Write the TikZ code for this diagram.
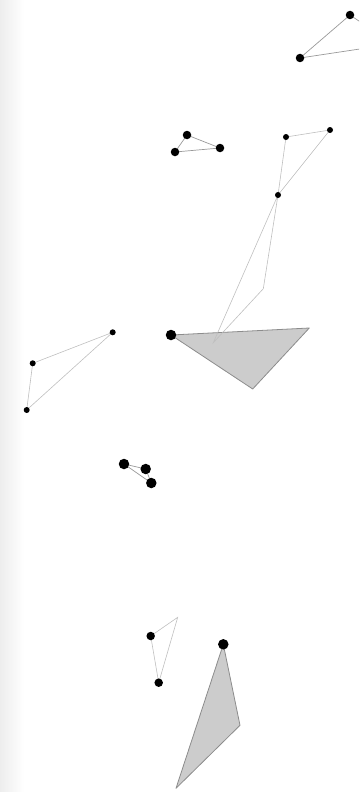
\documentclass[tikz,border=0pt]{standalone}
\begin{document}
\begin{tikzpicture}[x=1pt,y=-1pt,
  dotS/.style={circle,fill=black,inner sep=0pt,minimum size=6pt},
  dotM/.style={circle,fill=black,inner sep=0pt,minimum size=8.5pt},
  dotL/.style={circle,fill=black,inner sep=0pt,minimum size=10.5pt},
  edge/.style={draw=black!25,line width=0.6pt},
  edgeD/.style={draw=black!40,line width=0.7pt},
  face/.style={fill=black!20,draw=black!45,line width=0.8pt,line join=round}]
\useasboundingbox (0,0) rectangle (359,792);
\shade[left color=black!7,right color=white] (0,0) rectangle (24,792);
\begin{scope}
\clip (0,0) rectangle (359,792);
% group 1
\coordinate (c1) at (393,44);
\coordinate (a1) at (350,15);
\coordinate (b1) at (300,58);
\draw[edgeD] (a1) -- (b1) -- (c1) -- cycle;
\node[dotM] at (a1) {};
\node[dotM] at (b1) {};
\end{scope}
% group 2
\coordinate (a2) at (187,135);
\coordinate (b2) at (175,152);
\coordinate (d2) at (220,148);
\draw[edgeD] (a2) -- (b2) -- (d2) -- cycle;
\node[dotM] at (a2) {};
\node[dotM] at (b2) {};
\node[dotM] at (d2) {};
% gray triangle 1
\coordinate (t1) at (171,335);
\coordinate (t2) at (309.3,328);
\coordinate (t3) at (252.7,389);
\draw[face] (t1) -- (t2) -- (t3) -- cycle;
\node[dotL] at (t1) {};
% group 3
\coordinate (a3) at (286,137);
\coordinate (b3) at (330,130);
\coordinate (c3) at (278,195);
\coordinate (d3) at (263.3,288.7);
\coordinate (e3) at (213.3,342.7);
\draw[edge] (a3) -- (b3) -- (c3) -- cycle;
\draw[edge] (c3) -- (d3) -- (e3) -- cycle;
\node[dotS] at (a3) {};
\node[dotS] at (b3) {};
\node[dotS] at (c3) {};
% group 5
\coordinate (a5) at (112.7,332.3);
\coordinate (b5) at (32.7,363.3);
\coordinate (c5) at (26.7,410);
\draw[edge] (a5) -- (b5) -- (c5) -- cycle;
\node[dotS] at (a5) {};
\node[dotS] at (b5) {};
\node[dotS] at (c5) {};
% group 6
\coordinate (a6) at (124,464);
\coordinate (b6) at (145.7,469);
\coordinate (c6) at (151.3,483);
\draw[edgeD] (a6) -- (b6) -- (c6) -- cycle;
\node[dotL] at (a6) {};
\node[dotL] at (b6) {};
\node[dotL] at (c6) {};
% group 7
\coordinate (a7) at (150.7,636);
\coordinate (b7) at (158.7,682.7);
\coordinate (c7) at (177.7,617.3);
\draw[edge] (a7) -- (b7) -- (c7) -- cycle;
\node[dotM] at (a7) {};
\node[dotM] at (b7) {};
% gray triangle 2
\coordinate (u1) at (223.3,644.3);
\coordinate (u2) at (240,725.3);
\coordinate (u3) at (176,788.3);
\draw[face] (u1) -- (u2) -- (u3) -- cycle;
\node[dotL] at (u1) {};
\end{tikzpicture}
\end{document}
